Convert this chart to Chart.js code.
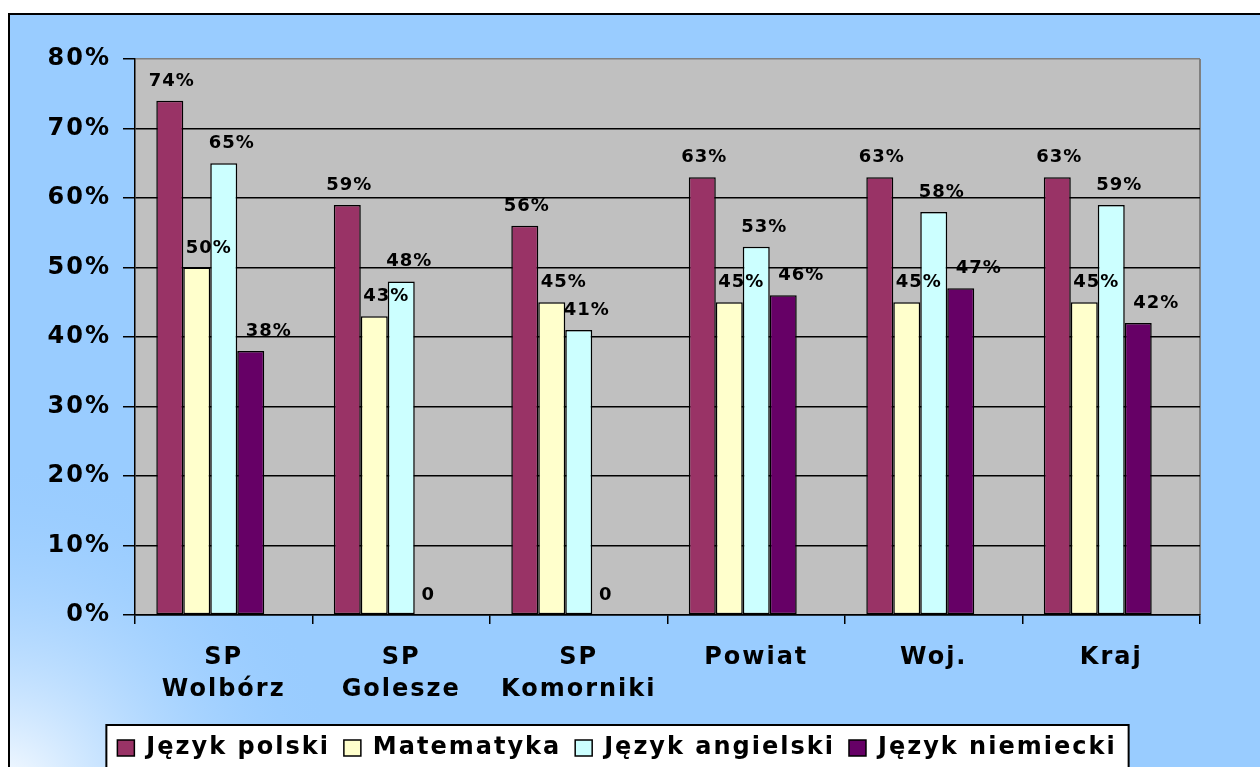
<!DOCTYPE html>
<html>
<head>
<meta charset="utf-8">
<script src="https://cdn.jsdelivr.net/npm/chart.js@4.4.0/dist/chart.umd.min.js"></script>
<style>body{margin:0;background:#fff}</style>
</head>
<body>
<canvas id="wyniki" width="1260" height="767"></canvas>
<script>
// dane z wykresu (w %)
const categories = [['SP', 'Wolbórz'], ['SP', 'Golesze'], ['SP', 'Komorniki'], 'Powiat', 'Woj.', 'Kraj']
const polski = [74, 59, 56, 63, 63, 63]
const matematyka = [50, 43, 45, 45, 45, 45]
const angielski = [65, 48, 41, 53, 58, 59]
const niemiecki = [38, 0, 0, 46, 47, 42]
const pusta = [null, null, null, null, null, null]   // pusta seria w Excelu (zostawia miejsce)

const FONT = '"DejaVu Sans", "Liberation Sans", Arial, sans-serif'
const labelShift = [2, 12, 8, 18, 0]

// szerszy tekst jak w oryginale
const rozstaw = {
    id: 'rozstaw',
    beforeUpdate(chart) { chart.ctx.letterSpacing = '2px' },
    beforeDraw(chart) { chart.ctx.letterSpacing = '2px' }
}

const tlo = {
    id: 'tlo',
    beforeDraw(chart) {
        const ctx = chart.ctx, a = chart.chartArea, W = chart.width, H = chart.height
        ctx.save()
        ctx.fillStyle = '#fff'
        ctx.fillRect(0, 0, W, H)
        ctx.fillStyle = '#99ccff'
        ctx.fillRect(9, 14, W, H)
        const g = ctx.createRadialGradient(0, 800, 0, 0, 800, 340)
        g.addColorStop(0, 'rgba(255,255,255,1)')
        g.addColorStop(1, 'rgba(153,204,255,0)')
        ctx.fillStyle = g
        ctx.fillRect(9, 14, W, H)
        ctx.strokeStyle = '#000'
        ctx.lineWidth = 2
        ctx.strokeRect(9, 14, W + 20, H + 20)
        // obszar wykresu
        ctx.fillStyle = '#c0c0c0'
        ctx.fillRect(a.left, a.top, a.width, a.height)
        ctx.strokeStyle = '#808080'
        ctx.beginPath()
        ctx.moveTo(a.right, a.top)
        ctx.lineTo(a.right, a.bottom)
        ctx.stroke()
        // ramka legendy
        const hb = chart.legend.legendHitBoxes
        if (hb && hb.length) {
            const l = Math.min(...hb.map(b => b.left)) - 11
            const r = Math.max(...hb.map(b => b.left + b.width)) + 12
            const t = chart.legend.top + 3
            ctx.fillStyle = '#fff'
            ctx.fillRect(l, t, r - l, H)
            ctx.strokeStyle = '#000'
            ctx.lineWidth = 2
            ctx.strokeRect(l, t, r - l, H + 20)
        }
        ctx.restore()
    }
}

const etykiety = {
    id: 'etykiety',
    afterDatasetsDraw(chart) {
        const ctx = chart.ctx
        ctx.save()
        ctx.letterSpacing = '1px'
        ctx.font = 'bold 18px ' + FONT
        ctx.fillStyle = '#000'
        ctx.textAlign = 'center'
        ctx.textBaseline = 'alphabetic'
        chart.data.datasets.forEach((ds, i) => {
            if (!ds.label) return
            chart.getDatasetMeta(i).data.forEach((bar, j) => {
                const v = ds.data[j]
                if (v == null) return
                const dx = v === 0 ? 0 : labelShift[i]
                ctx.fillText(v === 0 ? '0' : v + '%', bar.x + dx, bar.y - 15)
            })
        })
        ctx.restore()
    }
}

const ctxW = document.getElementById('wyniki').getContext('2d')
new Chart(ctxW, {
    type: 'bar',
    data: {
        labels: categories,
        datasets: [
            {label: 'Język polski', data: polski, backgroundColor: '#993366'},
            {label: 'Matematyka', data: matematyka, backgroundColor: '#ffffcc'},
            {label: 'Język angielski', data: angielski, backgroundColor: '#ccffff'},
            {label: 'Język niemiecki', data: niemiecki, backgroundColor: '#660066'},
            {label: '', data: pusta, backgroundColor: 'rgba(0,0,0,0)'}
        ].map(d => Object.assign(d, {borderColor: '#000', borderWidth: 1.5, borderSkipped: false,
            categoryPercentage: 0.76, barPercentage: 1}))
    },
    options: {
        responsive: false,
        animation: false,
        layout: {padding: {left: 34, right: 60, top: 59, bottom: -3}},
        plugins: {
            tooltip: {enabled: false},
            legend: {
                position: 'bottom',
                labels: {
                    filter: item => item.text !== '',
                    color: '#000',
                    font: {family: FONT, size: 24, weight: 'bold'},
                    boxWidth: 17,
                    boxHeight: 16,
                    padding: 14
                }
            }
        },
        scales: {
            x: {
                grid: {offset: true, drawOnChartArea: false, drawTicks: true, tickLength: 9,
                    color: '#000', lineWidth: 1.5},
                border: {color: '#000', width: 1.5},
                ticks: {color: '#000', padding: 18, maxRotation: 0,
                    font: {family: FONT, size: 24, weight: 'bold', lineHeight: 1.32}},
                afterFit(scale) { scale.height = 107 }
            },
            y: {
                min: 0, max: 80,
                grid: {color: c => c.tick && c.tick.value === 80 ? '#808080' : '#000', lineWidth: 1.5,
                    tickColor: '#000', tickLength: 12},
                border: {color: '#000', width: 1.5},
                ticks: {stepSize: 10, color: '#000', padding: 12,
                    font: {family: FONT, size: 24, weight: 'bold'},
                    callback: v => v + '%'},
                afterFit(scale) { scale.width = 101 }
            }
        }
    },
    plugins: [rozstaw, tlo, etykiety]
})
</script>
</body>
</html>
